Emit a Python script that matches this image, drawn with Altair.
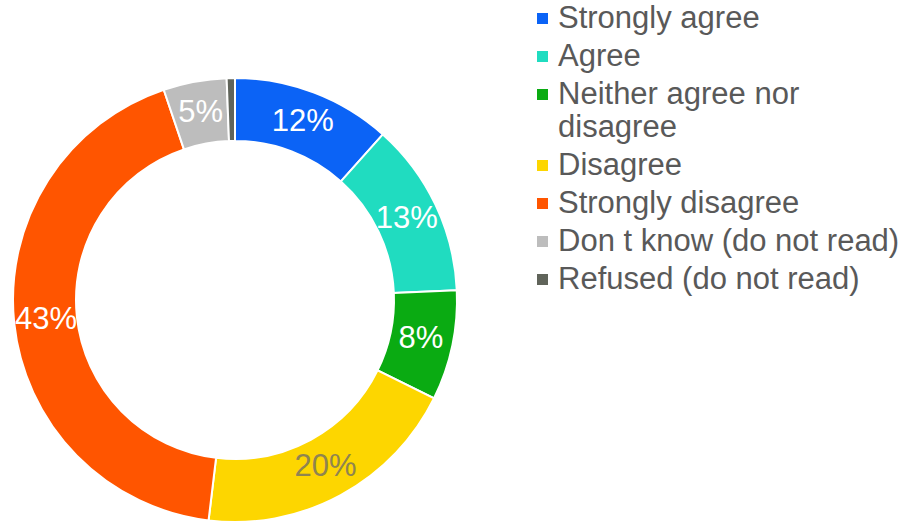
import altair as alt
import pandas as pd

categories = ["Strongly agree", "Agree", "Neither agree nor disagree", "Disagree",
              "Strongly disagree", "Don t know (do not read)", "Refused (do not read)"]
values = [11.6, 12.7, 8.0, 19.6, 42.9, 4.6, 0.6]
labels = ["12%", "13%", "8%", "20%", "43%", "5%", ""]
colors = ["#0b63f6", "#20dcc0", "#0aab12", "#fdd600", "#ff5500", "#bdbdbd", "#60645a"]
label_colors = ["#ffffff", "#ffffff", "#ffffff", "#8f8450", "#ffffff", "#ffffff", "#ffffff"]

df = pd.DataFrame({
    "cat": categories,
    "val": values,
    "lab": labels,
    "idx": list(range(len(categories))),
    "lc": label_colors,
})

base = alt.Chart(df).encode(
    theta=alt.Theta("val:Q", stack=True),
    order=alt.Order("idx:Q", sort="ascending"),
    x=alt.value(235),
    y=alt.value(300),
)

label_expr = ("datum.label == 'Neither agree nor disagree' ? "
              "['Neither agree nor', 'disagree'] : datum.label")

arcs = base.mark_arc(outerRadius=222, innerRadius=159, stroke="white", strokeWidth=2).encode(
    color=alt.Color(
        "cat:N",
        sort=categories,
        scale=alt.Scale(domain=categories, range=colors),
        legend=alt.Legend(
            title=None,
            orient="none",
            legendX=527,
            legendY=3,
            symbolType="square",
            symbolSize=121,
            symbolStrokeWidth=0,
            labelFont="Liberation Sans",
            labelFontSize=31,
            labelColor="#595959",
            labelLimit=420,
            labelOffset=0,
            rowPadding=6,
            labelExpr=label_expr,
        ),
    )
)

texts = base.mark_text(radius=190, font="Liberation Sans", fontSize=31).encode(
    text="lab:N",
    color=alt.Color("lc:N", scale=None),
)

chart = alt.layer(arcs, texts).properties(
    width=912, height=522, autosize=alt.AutoSizeParams(type="none"), padding=0
).configure_view(stroke=None)

chart.save("out.html", embed_options={"renderer": "svg", "actions": False})
